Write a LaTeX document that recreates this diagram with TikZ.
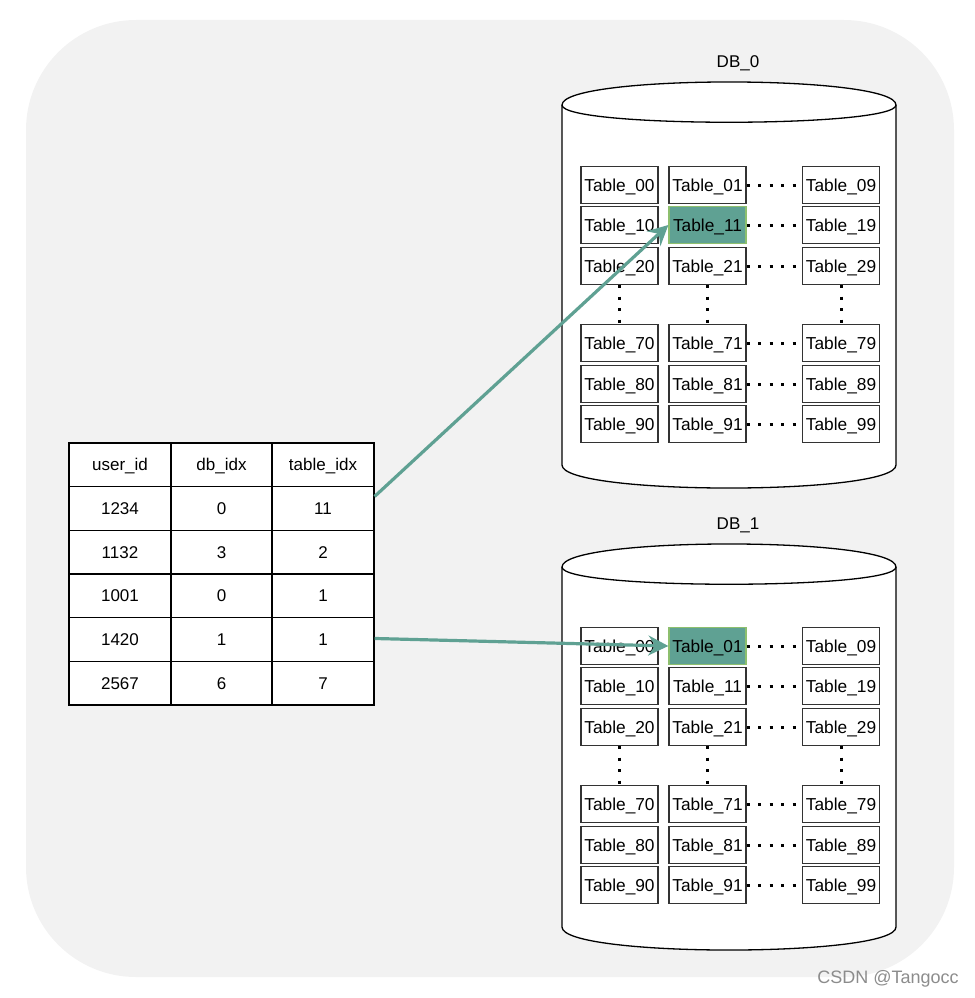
\documentclass[tikz,border=0pt]{standalone}
\usepackage{fontspec}
\setmainfont{Liberation Sans}
\usetikzlibrary{arrows.meta}
\definecolor{bgc}{HTML}{F2F2F2}
\definecolor{teal}{HTML}{5FA193}
\definecolor{hlborder}{HTML}{8DBF6E}
\definecolor{boxline}{HTML}{333333}
\tikzset{
  tbox/.style={draw=boxline, line width=1.3pt, fill=white, minimum width=77pt, minimum height=37pt, inner sep=0pt, text height=12.4pt, text depth=0pt, font=\fontsize{17.3}{20}\selectfont},
  hbox/.style={tbox, fill=teal, draw=hlborder},
  cell/.style={draw=black, line width=1.2pt, fill=white, minimum height=43.7pt, inner sep=0pt, text height=12.2pt, text depth=0pt, font=\fontsize{17}{20}\selectfont},
  dotline/.style={line width=3pt, dash pattern=on 3pt off 8.5pt, line cap=butt},
  cyl/.style={draw=black, line width=1.3pt, fill=white},
  lbl/.style={font=\fontsize{17}{20}\selectfont, inner sep=0pt},
  conn/.style={draw=teal, line width=3.2pt, -{Stealth[length=20pt, width=20pt, inset=7pt]}}
}
\begin{document}
\begin{tikzpicture}[x=1pt, y=-1pt]
\useasboundingbox (0,0) rectangle (974,998);
\fill[bgc, rounded corners=110pt] (26,20) rectangle (954,977);

% cylinders
\foreach \k/\off in {0/0, 1/462} {
  \begin{scope}[yshift=-\off pt]
    \path[cyl] (562,105) .. controls (562,74.3) and (896,74.3) .. (896,105)
      -- (896,465) .. controls (896,495.7) and (562,495.7) .. (562,465) -- cycle;
    \draw[black, line width=1.3pt] (562,105) .. controls (562,128) and (896,128) .. (896,105);
    \node[lbl] (db\k) at (738,63) {DB\_\k};
  \end{scope}
}

% table boxes
\foreach \k/\off in {0/0, 1/461} {
  \foreach \r/\y in {0/185, 1/225, 2/266, 7/343, 8/384, 9/424} {
    \foreach \c/\x in {0/619.5, 1/707.5, 9/841} {
      \node[tbox] (t\k-\r\c) at (\x, \y+\off) {Table\_\r\c};
    }
  }
}
% highlighted
\node[hbox] (h0) at (t0-11) {Table\_11};
\node[hbox] (h1) at (t1-01) {Table\_01};

% dotted connectors
\foreach \k in {0,1} {
  \foreach \r in {0,1,2,7,8,9} {
    \draw[dotline] (t\k-\r1.east) -- (t\k-\r9.west);
  }
  \foreach \c in {0,1,9} {
    \draw[dotline] (t\k-2\c.south) -- (t\k-7\c.north);
  }
}

% mapping table
\foreach \row/\a/\b/\cc [count=\i from 0] in {user\_id/db\_idx/table\_idx/x, 1234/0/11/x, 1132/3/2/x, 1001/0/1/x, 1420/1/1/x, 2567/6/7/x} {
  \node[cell, minimum width=102pt] (m\i-1) at (120, 464.8+\i*43.67) {\row};
  \node[cell, minimum width=101pt] (m\i-2) at (221.5, 464.8+\i*43.67) {\a};
  \node[cell, minimum width=102pt] (m\i-3) at (323, 464.8+\i*43.67) {\b};
}

% connectors
\coordinate (s1) at ([yshift=12pt]m1-3.east);
\draw[conn] (s1) -- (h0.west);
\coordinate (s2) at ([yshift=1pt]m4-3.east);
\draw[conn] (s2) -- (h1.west);

% watermark
\node[font=\fontsize{18}{21}\selectfont, text=black!45, inner sep=0pt] (wm) at (888,979) {CSDN @Tangocc};
\end{tikzpicture}
\end{document}
